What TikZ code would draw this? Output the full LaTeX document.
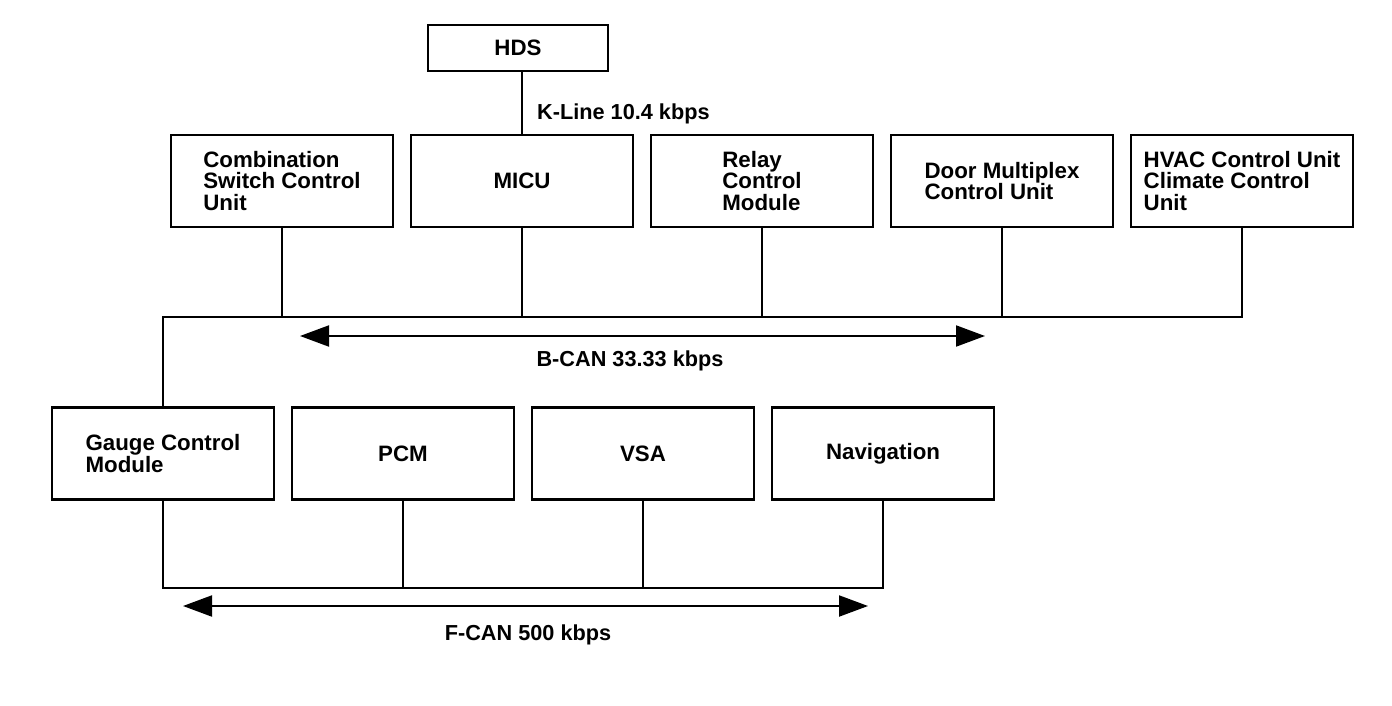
\documentclass[tikz,border=0pt]{standalone}
\usepackage{fontspec}
\setmainfont{Liberation Sans}
\usepackage{tikz}
\usetikzlibrary{arrows.meta, positioning}
\tikzset{
  module/.style={draw, line width=2.8pt, outer sep=0pt, inner sep=0pt, align=left,
    minimum width=222pt, minimum height=92pt, font=\fontsize{22.3}{21.5}\selectfont\bfseries},
  tool/.style={module, minimum width=180pt, minimum height=46pt},
  bus/.style={line width=1.3pt},
  busarrow/.style={{Triangle[length=29pt,width=21pt]}-{Triangle[length=29pt,width=21pt]}, line width=2pt},
  rate/.style={font=\fontsize{21.7}{22}\selectfont\bfseries, inner sep=0pt}
}
\begin{document}
\begin{tikzpicture}[x=1pt, y=-1pt, node distance=18pt]
    \useasboundingbox (0,0) rectangle (1392,706);

    \node[tool] (hds) at (518,48) {HDS};

    % B-CAN row
    \node[module] (comb) at (282,181) {Combination\\Switch Control\\Unit};
    \node[module, right=of comb] (micu) {MICU};
    \node[module, right=of micu] (relay) {Relay\\Control\\Module};
    \node[module, right=of relay] (door) {Door Multiplex\\Control Unit};
    \node[module, right=of door] (hvac) {HVAC Control Unit\\Climate Control\\Unit};

    % F-CAN row
    \node[module] (gauge) at (163,453.5) {Gauge Control\\Module};
    \node[module, right=of gauge] (pcm) {PCM};
    \node[module, right=of pcm] (vsa) {VSA};
    \node[module, right=of vsa] (nav) {Navigation};

    \coordinate (bcan) at (0,317);
    \coordinate (fcan) at (0,588);

    \draw[bus] (hds.south -| micu.north) -- (micu.north);
    \node[rate, anchor=west] (kline) at (537,114) {K-Line 10.4 kbps};

    \draw[bus] (gauge.north) |- (hvac.south |- bcan) -- (hvac.south);
    \foreach \m in {comb, micu, relay, door}
      \draw[bus] (\m.south) -- (\m.south |- bcan);

    \draw[bus] (gauge.south) |- (nav.south |- fcan) -- (nav.south);
    \foreach \m in {pcm, vsa}
      \draw[bus] (\m.south) -- (\m.south |- fcan);

    \coordinate (bl) at (300,336);
    \coordinate (br) at (985,336);
    \draw[busarrow] (bl) -- (br);
    \node[rate] (bcanlabel) at (630,361) {B-CAN 33.33 kbps};

    \coordinate (fl) at (183,606);
    \coordinate (fr) at (868,606);
    \draw[busarrow] (fl) -- (fr);
    \node[rate] (fcanlabel) at (528,635) {F-CAN 500 kbps};
\end{tikzpicture}
\end{document}
